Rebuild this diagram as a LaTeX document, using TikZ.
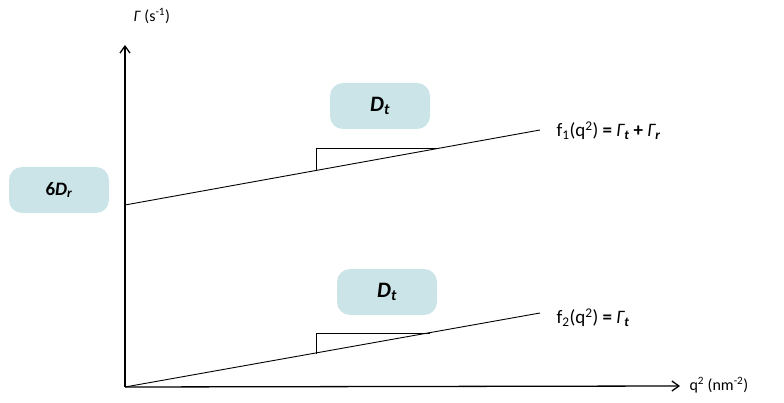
\documentclass[tikz,border=0pt]{standalone}
\usepackage{fontspec}
\setmainfont{Carlito}
\usetikzlibrary{arrows.meta}
\definecolor{boxc}{RGB}{203,228,232}
\begin{document}
\begin{tikzpicture}[x=1pt,y=-1pt,
  pill/.style={fill=boxc,rounded corners=13pt,minimum width=100pt,minimum height=46pt,font=\fontsize{22}{26}\selectfont\bfseries},
  axis/.style={line width=1.3pt,-{Straight Barb[length=7pt,width=10pt]}},
  fit line/.style={line width=0.9pt},
  lbl/.style={font=\fontsize{19}{23}\selectfont},
  albl/.style={font=\fontsize{16}{20}\selectfont}]
\useasboundingbox (0,0) rectangle (784,403);
\coordinate (O) at (125,387);
\coordinate (Ytop) at (125,45);
\coordinate (Xend) at (680,386);
\draw[axis] (O) -- (Ytop);
\draw[axis] (O) -- (Xend);
\node[albl,anchor=west] (ylab) at (130,16) {\textit{Γ} (s\textsuperscript{-1})};
\node[albl,anchor=west] (xlab) at (686,385) {q\textsuperscript{2} (nm\textsuperscript{-2})};
% line 1
\coordinate (a1) at (125,205);
\coordinate (b1) at (540,130);
\draw[fit line] (a1) -- (b1);
\coordinate (t1) at (316,170);
\coordinate (u1) at (316,148);
\coordinate (v1) at (437,148);
\draw[fit line] (t1) -- (u1) -- (v1);
\node[lbl,anchor=west] (f1) at (553,131) {f\textsubscript{1}(q\textsuperscript{2}) \textbf{=} \textit{Γ\textsubscript{\textbf{t}}} \textbf{+} \textit{Γ\textsubscript{\textbf{r}}}};
% line 2
\coordinate (b2) at (540,313);
\draw[fit line] (O) -- (b2);
\coordinate (t2) at (316,354);
\coordinate (u2) at (316,333);
\coordinate (v2) at (430,333);
\draw[fit line] (t2) -- (u2) -- (v2);
\node[lbl,anchor=west] (f2) at (553,318) {f\textsubscript{2}(q\textsuperscript{2}) \textbf{=} \textit{Γ\textsubscript{\textbf{t}}}};
% boxes
\node[pill] (dt1) at (380,106) {\textit{D\textsubscript{t}}};
\node[pill] (dt2) at (387,292) {\textit{D\textsubscript{t}}};
\node[pill,font=\fontsize{19}{23}\selectfont\bfseries] (dr) at (59,190) {6\textit{D\textsubscript{r}}};
\end{tikzpicture}
\end{document}
